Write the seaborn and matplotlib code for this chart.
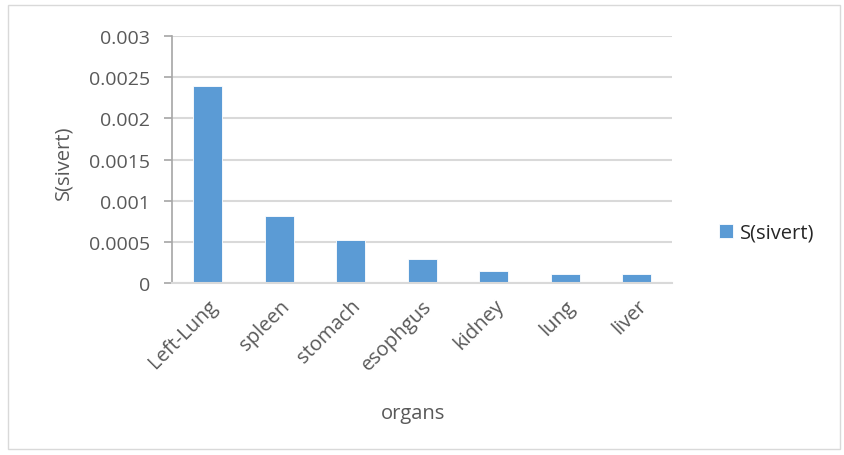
import matplotlib
matplotlib.use("Agg")
import matplotlib.pyplot as plt
import seaborn as sns
import pandas as pd
from matplotlib.patches import Rectangle

# chart values
organs = ["Left-Lung", "spleen", "stomach", "esophgus", "kidney", "lung", "liver"]
dose = [0.00239, 0.00082, 0.000526, 0.000288, 0.000142, 0.000113, 0.000109]
y_ticks = [0, 0.0005, 0.001, 0.0015, 0.002, 0.0025, 0.003]
y_tick_labels = ["0", "0.0005", "0.001", "0.0015", "0.002", "0.0025", "0.003"]
series_name = "S(sivert)"

BAR = "#5b9bd5"
TXT = "#595959"
GRID = "#d9d9d9"

sns.set_theme(style="white")
plt.rcParams["font.family"] = ["Open Sans", "DejaVu Sans"]

df = pd.DataFrame({"organ": organs, "dose": dose})

fig = plt.figure(figsize=(8.44, 4.56), dpi=100)
ax = fig.add_axes([0.2038, 0.377, 0.593, 0.542])

sns.barplot(data=df, x="organ", y="dose", color=BAR, width=0.4,
            saturation=1, edgecolor="white", linewidth=0.6, ax=ax,
            label=series_name, legend=False)

ax.set_ylim(0, 0.003)
ax.set_xlim(-0.5, len(organs) - 0.5)
ax.set_yticks(y_ticks)
ax.set_yticklabels(y_tick_labels, color=TXT, fontsize=14)
ax.yaxis.grid(True, color=GRID, linewidth=1.5)
ax.set_axisbelow(True)

for s in ["top", "right"]:
    ax.spines[s].set_visible(False)
ax.spines["left"].set_color("#a6a6a6")
ax.spines["left"].set_linewidth(1.2)
ax.spines["bottom"].set_color(GRID)
ax.spines["bottom"].set_linewidth(1.5)

ax.tick_params(axis="y", direction="out", length=6, width=1.2, color="#a6a6a6",
               left=True, pad=10)
ax.tick_params(axis="x", length=0, pad=9)
plt.setp(ax.get_xticklabels(), rotation=45, ha="right", rotation_mode="anchor",
         color=TXT, fontsize=14.5)

ax.set_xlabel("organs", color=TXT, fontsize=14.5)
ax.set_ylabel("S(sivert)", color=TXT, fontsize=14.5)
ax.xaxis.set_label_coords(0.481, -0.485)
ax.yaxis.set_label_coords(-0.197, 0.49)

handles, labels = ax.get_legend_handles_labels()
if ax.get_legend() is not None:
    ax.get_legend().remove()
fig.legend(handles, labels, loc="center left", bbox_to_anchor=(0.830, 0.487),
           frameon=False, fontsize=14.5, handlelength=0.7, handleheight=0.7,
           handletextpad=0.35, labelcolor="#262626")

fig.patches.append(Rectangle((8 / 844, 6 / 456), 832 / 844, 444 / 456,
                             transform=fig.transFigure, fill=False,
                             edgecolor=GRID, linewidth=1.0))

fig.savefig("out.png", dpi=100)
